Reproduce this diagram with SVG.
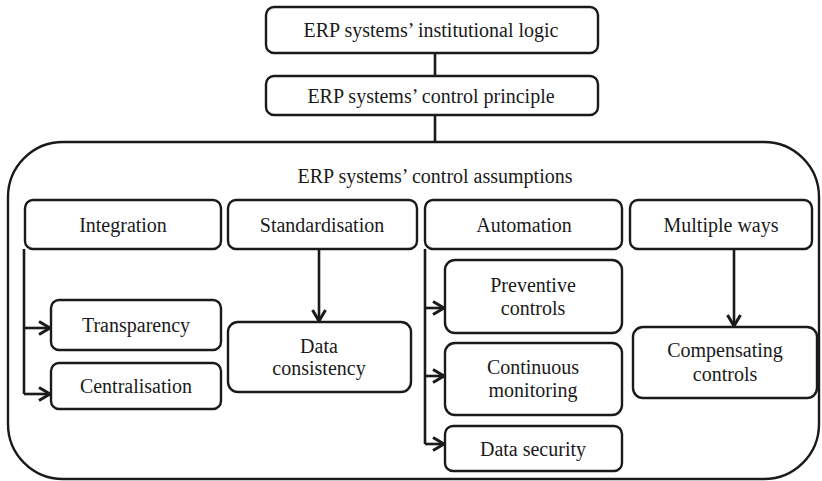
<svg xmlns="http://www.w3.org/2000/svg" width="822" height="481" viewBox="0 0 822 481">
  <style>
    .box { fill: #fff; stroke: #1a1a1a; stroke-width: 2.4; }
    .line { fill: none; stroke: #1a1a1a; stroke-width: 2.6; }
    .lbl { font-family: "Liberation Serif", "Tinos", "DejaVu Serif", serif; font-size: 20px; fill: #1a1a1a; text-anchor: middle; }
  </style>
  <defs>
    <marker id="arrow" viewBox="0 0 16 16" refX="13" refY="8" markerWidth="16" markerHeight="16" markerUnits="userSpaceOnUse" orient="auto">
      <path d="M2,1.5 L13,8 L2,14.5" fill="none" stroke="#1a1a1a" stroke-width="3"/>
    </marker>
  </defs>
  <rect width="822" height="481" fill="#fff"/>

  <!-- outer container -->
  <g id="assumptions">
    <rect class="box" x="8" y="142" width="811" height="337" rx="55"/>
    <text class="lbl" x="435" y="183">ERP systems’ control assumptions</text>
  </g>

  <g id="connectors">
    <path class="line" d="M435,53 V76"/>
    <path class="line" d="M435,115 V142"/>
    <!-- integration branch -->
    <path class="line" d="M24,249 V394"/>
    <path class="line" d="M24,328 H50" marker-end="url(#arrow)"/>
    <path class="line" d="M24,394 H50" marker-end="url(#arrow)"/>
    <!-- standardisation -->
    <path class="line" d="M319,249 V321" marker-end="url(#arrow)"/>
    <!-- automation branch -->
    <path class="line" d="M425,249 V444"/>
    <path class="line" d="M425,308 H444" marker-end="url(#arrow)"/>
    <path class="line" d="M425,376 H444" marker-end="url(#arrow)"/>
    <path class="line" d="M425,444 H444" marker-end="url(#arrow)"/>
    <!-- multiple ways -->
    <path class="line" d="M734,249 V326" marker-end="url(#arrow)"/>
  </g>

  <g id="logic">
    <rect class="box" x="266" y="7" width="332" height="46" rx="8"/>
    <text class="lbl" x="431" y="37">ERP systems’ institutional logic</text>
  </g>
  <g id="principle">
    <rect class="box" x="266" y="76" width="332" height="39" rx="8"/>
    <text class="lbl" x="431" y="103">ERP systems’ control principle</text>
  </g>

  <g id="integration">
    <rect class="box" x="25" y="200" width="196" height="49" rx="8"/>
    <text class="lbl" x="123" y="232">Integration</text>
  </g>
  <g id="standardisation">
    <rect class="box" x="228" y="200" width="189" height="49" rx="8"/>
    <text class="lbl" x="322" y="232">Standardisation</text>
  </g>
  <g id="automation">
    <rect class="box" x="425" y="200" width="197" height="49" rx="8"/>
    <text class="lbl" x="524" y="232">Automation</text>
  </g>
  <g id="multiple-ways">
    <rect class="box" x="630" y="200" width="182" height="49" rx="8"/>
    <text class="lbl" x="721" y="232">Multiple ways</text>
  </g>

  <g id="transparency">
    <rect class="box" x="51" y="300" width="170" height="50" rx="8"/>
    <text class="lbl" x="136" y="332">Transparency</text>
  </g>
  <g id="centralisation">
    <rect class="box" x="51" y="363" width="170" height="46" rx="8"/>
    <text class="lbl" x="136" y="393">Centralisation</text>
  </g>

  <g id="data-consistency">
    <rect class="box" x="228" y="322" width="183" height="70" rx="10"/>
    <text class="lbl" x="319" y="353">Data</text>
    <text class="lbl" x="319" y="375">consistency</text>
  </g>

  <g id="preventive">
    <rect class="box" x="445" y="260" width="177" height="73" rx="10"/>
    <text class="lbl" x="533" y="292">Preventive</text>
    <text class="lbl" x="533" y="315">controls</text>
  </g>
  <g id="continuous">
    <rect class="box" x="445" y="343" width="177" height="72" rx="10"/>
    <text class="lbl" x="533" y="374">Continuous</text>
    <text class="lbl" x="533" y="397">monitoring</text>
  </g>
  <g id="data-security">
    <rect class="box" x="445" y="426" width="177" height="45" rx="8"/>
    <text class="lbl" x="533" y="456">Data security</text>
  </g>

  <g id="compensating">
    <rect class="box" x="633" y="327" width="184" height="71" rx="10"/>
    <text class="lbl" x="725" y="357">Compensating</text>
    <text class="lbl" x="725" y="381">controls</text>
  </g>
</svg>
